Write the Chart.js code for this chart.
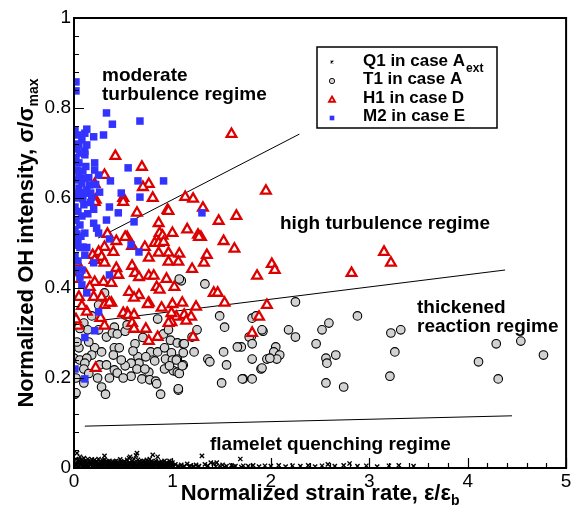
<!DOCTYPE html>
<html>
<head>
<meta charset="utf-8">
<script src="https://cdn.jsdelivr.net/npm/chart.js@4.4.1/dist/chart.umd.min.js"></script>
<style>
  html, body { margin: 0; padding: 0; background: #fff; }
  canvas { display: block; }
</style>
</head>
<body>
<canvas id="chart" width="574" height="513"></canvas>
<script>
// Axis ticks
const xTicks = [0, 1, 2, 3, 4, 5];
const yTicks = [0, 0.2, 0.4, 0.6, 0.8, 1];

// Q1 in case A_ext (x markers along the bottom)
const q1Points = [
  [0.0,0.003],[0.01,0.01],[0.02,0.02],[0.03,0.033],[0.04,0.005],[0.05,0.015],[0.05,0.002],[0.06,0.025],[0.07,0.008],
  [0.08,0.018],[0.09,0.012],[0.1,0.022],[0.1,0.003],[0.11,0.006],[0.12,0.016],[0.13,0.01],[0.14,0.02],[0.15,0.004],
  [0.16,0.014],[0.17,0.009],[0.18,0.019],[0.19,0.006],[0.2,0.012],[0.2,0.002],[0.21,0.018],[0.22,0.007],[0.23,0.015],
  [0.24,0.01],[0.25,0.02],[0.25,0.003],[0.26,0.005],[0.27,0.013],[0.28,0.009],[0.29,0.017],[0.3,0.006],[0.31,0.027],
  [0.31,0.018],[0.32,0.011],[0.33,0.005],[0.34,0.014],[0.35,0.008],[0.35,0.002],[0.36,0.016],[0.37,0.004],[0.38,0.011],
  [0.39,0.007],[0.4,0.013],[0.4,0.003],[0.41,0.005],[0.42,0.01],[0.43,0.016],[0.44,0.006],[0.45,0.012],[0.45,0.002],
  [0.46,0.008],[0.47,0.019],[0.48,0.005],[0.49,0.011],[0.5,0.009],[0.5,0.003],[0.51,0.015],[0.52,0.006],[0.53,0.012],
  [0.54,0.018],[0.55,0.007],[0.55,0.002],[0.56,0.022],[0.57,0.025],[0.58,0.01],[0.59,0.016],[0.6,0.006],[0.6,0.002],
  [0.61,0.02],[0.62,0.012],[0.63,0.028],[0.64,0.033],[0.65,0.018],[0.65,0.003],[0.66,0.008],[0.67,0.013],[0.68,0.005],
  [0.69,0.01],[0.7,0.006],[0.7,0.002],[0.71,0.016],[0.72,0.009],[0.73,0.012],[0.74,0.018],[0.75,0.007],[0.75,0.003],
  [0.76,0.014],[0.77,0.02],[0.78,0.01],[0.79,0.005],[0.8,0.029],[0.8,0.002],[0.81,0.012],[0.82,0.007],[0.83,0.016],
  [0.84,0.009],[0.85,0.025],[0.85,0.003],[0.86,0.005],[0.87,0.011],[0.88,0.006],[0.89,0.014],[0.9,0.008],[0.9,0.002],
  [0.92,0.016],[0.92,0.004],[0.93,0.005],[0.95,0.01],[0.95,0.003],[0.97,0.016],[0.98,0.006],[1.0,0.012],[1.0,0.003],
  [0.015,0.004],[0.035,0.012],[0.065,0.006],[0.085,0.003],[0.115,0.013],[0.135,0.004],[0.165,0.007],[0.185,0.011],
  [0.215,0.005],[0.235,0.009],[0.265,0.014],[0.285,0.004],[0.315,0.008],[0.345,0.006],[0.365,0.01],[0.395,0.004],
  [0.415,0.014],[0.435,0.007],[0.465,0.004],[0.485,0.013],[0.515,0.004],[0.535,0.008],[0.565,0.012],[0.585,0.005],
  [0.615,0.009],[0.635,0.004],[0.665,0.015],[0.685,0.009],[0.715,0.005],[0.735,0.007],[0.765,0.004],[0.785,0.015],
  [0.815,0.004],[0.835,0.01],[0.865,0.013],[0.885,0.003],[0.915,0.009],[0.94,0.012],[0.965,0.007],[0.99,0.009],
  [0.025,0.008],[0.045,0.018],[0.075,0.013],[0.095,0.007],[0.125,0.008],[0.145,0.012],[0.175,0.015],[0.195,0.013],
  [0.225,0.012],[0.245,0.006],[0.275,0.008],[0.295,0.011],[0.325,0.015],[0.355,0.012],[0.375,0.007],[0.405,0.009],
  [0.425,0.005],[0.455,0.008],[0.475,0.011],[0.505,0.012],[0.525,0.009],[0.545,0.004],[0.575,0.008],[0.595,0.011],
  [0.625,0.006],[0.655,0.011],[0.675,0.007],[0.695,0.014],[0.725,0.011],[0.755,0.01],[0.775,0.007],[0.795,0.01],
  [0.825,0.012],[0.855,0.008],[0.875,0.008],[0.895,0.011],[0.925,0.007],[0.955,0.006],[0.975,0.011],[0.995,0.004],
  [1.01,0.005],[1.03,0.008],[1.06,0.004],[1.09,0.007],[1.12,0.004],[1.15,0.009],[1.18,0.005],[1.21,0.003],[1.24,0.007],
  [1.27,0.004],[1.3,0.027],[1.33,0.008],[1.36,0.005],[1.39,0.012],[1.42,0.01],[1.45,0.012],[1.48,0.005],[1.51,0.007],
  [1.55,0.004],[1.6,0.006],[1.64,0.004],[1.69,0.02],[1.72,0.005],[1.77,0.004],[1.82,0.006],[1.88,0.003],[1.94,0.005],
  [1.05,0.003],[1.1,0.002],[1.17,0.003],[1.26,0.002],[1.35,0.003],[1.44,0.003],[1.53,0.002],[1.62,0.003],[1.7,0.002],
  [2.0,0.004],[2.08,0.006],[2.15,0.003],[2.22,0.005],[2.3,0.004],[2.38,0.006],[2.45,0.003],[2.52,0.005],[2.58,0.008],
  [2.65,0.004],[2.74,0.006],[2.8,0.01],[2.88,0.004],[2.97,0.005],[3.08,0.003],[3.2,0.005],[3.3,0.006],[3.45,0.004]
];

// T1 in case A (grey circles)
const t1Points = [
  [0.25,0.362],[0.1,0.322],[0.18,0.338],[0.14,0.307],[0.25,0.307],[0.33,0.291],[0.41,0.313],[0.39,0.3],[0.44,0.298],
  [0.52,0.304],[0.54,0.318],[0.85,0.331],[0.91,0.298],[0.96,0.307],[0.98,0.284],[1.05,0.278],[0.62,0.276],[0.05,0.267],
  [0.21,0.267],[0.28,0.258],[0.18,0.251],[0.41,0.267],[0.46,0.267],[0.4,0.251],[0.78,0.258],[0.85,0.258],[0.92,0.267],
  [0.99,0.256],[0.0,0.244],[0.06,0.24],[0.13,0.244],[0.11,0.233],[0.26,0.229],[0.33,0.229],[0.65,0.247],[0.66,0.233],
  [0.58,0.233],[0.73,0.247],[0.82,0.238],[0.93,0.242],[1.0,0.24],[1.05,0.242],[0.1,0.22],[0.41,0.218],[0.52,0.227],
  [0.64,0.22],[0.92,0.22],[1.01,0.216],[0.76,0.213],[0.44,0.211],[0.58,0.204],[0.69,0.198],[0.77,0.196],[0.83,0.193],
  [1.05,0.213],[0.28,0.18],[0.84,0.187],[0.1,0.189],[0.32,0.164],[0.01,0.164],[0.88,0.164],[1.06,0.173],
  [1.09,0.416],[1.33,0.409],[1.48,0.338],[1.53,0.313],[1.81,0.333],[1.8,0.291],[1.36,0.242],[1.38,0.236],[1.55,0.229],
  [1.5,0.189],[1.72,0.198],[1.81,0.198],[0.02,0.167],[1.25,0.307],[1.2,0.291],[1.11,0.276],[1.11,0.256],[1.11,0.229],
  [1.04,0.24],[1.7,0.269],[1.66,0.269],[1.52,0.258],[1.85,0.338],[1.92,0.304],[1.78,0.291],[1.81,0.276],[2.25,0.369],
  [2.18,0.307],[2.25,0.291],[2.05,0.269],[2.03,0.258],[2.09,0.251],[1.96,0.242],[2.06,0.242],[1.81,0.242],[1.9,0.22],
  [1.71,0.198],[1.06,0.176],[1.07,0.21],[0.97,0.227],[1.1,0.227],[1.12,0.276],[1.22,0.258],[2.88,0.338],[2.59,0.322],
  [2.52,0.307],[2.46,0.276],[2.66,0.251],[2.56,0.244],[2.57,0.233],[2.56,0.189],[2.74,0.18],[3.22,0.3],[3.32,0.307],
  [3.26,0.258],[3.21,0.204],[4.29,0.276],[4.54,0.282],[4.77,0.251],[4.11,0.236],[4.31,0.198],[1.91,0.307],[1.99,0.244],
  [1.91,0.222],[1.07,0.42],[0.31,0.389],[0.52,0.34],[0.02,0.2],[0.03,0.28],[0.06,0.31],[0.15,0.28],[0.24,0.2],
  [0.36,0.2],[0.48,0.24],[0.7,0.29],[0.15,0.21],[0.5,0.2],[0.6,0.26],[0.72,0.22]
];

// H1 in case D (red triangles)
const h1Points = [
  [0.42,0.693],[0.69,0.669],[0.31,0.651],[0.21,0.631],[0.76,0.631],[0.7,0.624],[0.5,0.6],[1.13,0.602],[1.21,0.598],
  [1.31,0.578],[0.95,0.573],[0.86,0.544],[0.87,0.522],[1.0,0.522],[0.9,0.516],[1.26,0.518],[1.29,0.513],[0.43,0.504],
  [0.54,0.513],[0.64,0.567],[0.22,0.596],[1.6,0.742],[1.95,0.616],[1.47,0.549],[1.65,0.56],[1.27,0.513],[1.52,0.504],
  [1.63,0.487],[1.35,0.473],[1.32,0.456],[1.07,0.476],[1.2,0.442],[2.01,0.453],[2.04,0.44],[1.86,0.427],[1.02,0.402],
  [1.42,0.389],[1.46,0.389],[1.53,0.367],[1.96,0.362],[1.24,0.358],[1.1,0.367],[1.0,0.364],[3.15,0.48],[3.22,0.456],
  [2.82,0.433],[1.88,0.336],[1.81,0.3],[1.04,0.336],[1.12,0.34],[1.19,0.336],[1.14,0.327],[0.99,0.324],[1.21,0.291],
  [0.21,0.591],[0.5,0.591],[0.96,0.571],[0.82,0.5],[0.86,0.5],[0.91,0.502],[0.52,0.513],[0.59,0.493],[0.31,0.491],
  [0.25,0.48],[0.19,0.473],[0.28,0.469],[0.72,0.491],[0.76,0.467],[0.86,0.478],[0.96,0.478],[0.96,0.458],[1.06,0.458],
  [0.31,0.456],[0.21,0.462],[0.03,0.456],[0.59,0.449],[0.43,0.444],[0.62,0.433],[0.45,0.429],[0.76,0.427],[0.81,0.427],
  [0.94,0.42],[0.66,0.424],[0.3,0.413],[0.38,0.411],[0.21,0.413],[0.16,0.402],[0.84,0.402],[0.87,0.396],[0.56,0.391],
  [0.66,0.384],[0.2,0.38],[0.28,0.38],[0.61,0.378],[0.38,0.367],[0.76,0.367],[0.89,0.356],[0.13,0.347],[0.54,0.344],
  [0.31,0.362],[0.99,0.344],[0.04,0.316],[0.31,0.316],[0.27,0.333],[0.75,0.364],[0.5,0.344],[0.55,0.34],[0.61,0.34],
  [0.59,0.322],[0.61,0.309],[0.73,0.309],[0.76,0.282],[0.85,0.291],[0.96,0.322],[0.22,0.222],[0.36,0.367],[0.34,0.52],
  [0.4,0.48],[0.05,0.38],[0.02,0.33],[0.08,0.36],[0.12,0.43],[0.02,0.42],[1.15,0.53],[0.8,0.6]
];

// M2 in case E (blue squares)
const m2Points = [
  [0.02,0.858],[0.02,0.838],[0.33,0.789],[0.39,0.764],[0.67,0.771],[0.13,0.753],[0.11,0.744],[0.2,0.736],[0.3,0.74],
  [0.08,0.729],[0.05,0.718],[0.13,0.718],[0.03,0.709],[0.11,0.704],[0.11,0.696],[0.05,0.678],[0.21,0.678],[0.55,0.667],
  [0.21,0.662],[0.03,0.662],[0.25,0.651],[0.05,0.647],[0.11,0.644],[0.37,0.638],[0.65,0.638],[0.91,0.638],[0.08,0.633],
  [0.16,0.629],[0.05,0.622],[0.13,0.618],[0.26,0.613],[0.48,0.611],[0.67,0.602],[0.03,0.607],[0.18,0.602],[0.36,0.58],
  [0.45,0.567],[0.33,0.551],[0.61,0.547],[0.2,0.544],[0.23,0.533],[0.11,0.522],[0.25,0.522],[0.36,0.509],[0.58,0.496],
  [0.66,0.48],[1.3,0.567],[0.11,0.473],[0.09,0.491],[0.04,0.507],[0.06,0.49],[0.13,0.49],[0.03,0.495],[0.2,0.456],
  [0.08,0.44],[0.36,0.429],[0.06,0.424],[0.08,0.407],[0.13,0.389],[0.25,0.347],[0.21,0.305],[0.11,0.29],[0.01,0.22],
  [0.11,0.198],[0.02,0.611],[0.07,0.611],[0.12,0.611],[0.17,0.611],[0.01,0.58],[0.04,0.57],[0.08,0.56],[0.02,0.55],
  [0.06,0.54],[0.1,0.585],[0.14,0.565],[0.01,0.53],[0.03,0.52],[0.07,0.515],[0.01,0.47],[0.04,0.46],[0.02,0.44],
  [0.01,0.68],[0.02,0.69],[0.01,0.75],[0.04,0.74],[0.02,0.72],[0.06,0.7],[0.09,0.66],[0.03,0.64],[0.12,0.67],
  [0.15,0.645],[0.17,0.59],[0.2,0.575],[0.22,0.63],[0.04,0.6],[0.09,0.598]
];

// regime boundary lines
const moderateLine = [[0.245, 0.511], [2.29, 0.742]];
const thickenedLine = [[0.2, 0.326], [4.38, 0.44]];
const quenchLine = [[0.11, 0.093], [4.45, 0.116]];

const FONT = "'Liberation Sans', Arial, Helvetica, sans-serif";

const toXY = arr => arr.map(p => ({ x: p[0], y: p[1] }));

const seriesStyles = [
  { label: 'Q1', pointStyle: 'crossRot', radius: 3, borderWidth: 1.4, borderColor: '#000', backgroundColor: '#000' },
  { label: 'T1', pointStyle: 'circle', radius: 4.3, borderWidth: 1.1, borderColor: '#000', backgroundColor: '#d2d2d2' },
  { label: 'H1', pointStyle: 'triangle', radius: 5.6, borderWidth: 2.3, borderColor: '#dd0000', backgroundColor: '#ffffff' },
  { label: 'M2', pointStyle: 'rect', radius: 5.3, borderWidth: 0, borderColor: '#3333ff', backgroundColor: '#3333ff' }
];

function pointSet(data, st, order) {
  return {
    label: st.label,
    data: toXY(data),
    pointStyle: st.pointStyle,
    pointRadius: st.radius,
    pointBorderWidth: st.borderWidth,
    pointBorderColor: st.borderColor,
    pointBackgroundColor: st.backgroundColor,
    showLine: false,
    order: order
  };
}

function lineSet(data) {
  return {
    data: toXY(data),
    showLine: true,
    borderColor: '#000',
    borderWidth: 1,
    pointRadius: 0,
    order: 5
  };
}

// text with a subscript, centred on cx
function subText(ctx, main, sub, cx, y, font, subFont, drop) {
  ctx.font = font;
  const w1 = ctx.measureText(main).width;
  ctx.font = subFont;
  const w2 = ctx.measureText(sub).width;
  const x0 = cx - (w1 + w2) / 2;
  ctx.textAlign = 'left';
  ctx.font = font;
  ctx.fillText(main, x0, y);
  ctx.font = subFont;
  ctx.fillText(sub, x0 + w1, y + drop);
}

const decorations = {
  id: 'decorations',
  afterDatasetsDraw(chart) {
    const ctx = chart.ctx;
    const area = chart.chartArea;
    const xs = chart.scales.x;
    const ys = chart.scales.y;
    ctx.save();
    ctx.strokeStyle = '#000';
    ctx.fillStyle = '#000';

    // inward ticks
    ctx.lineWidth = 1.2;
    ctx.beginPath();
    for (let i = 0; i <= 25; i++) {
      const py = Math.round(ys.getPixelForValue(i * 0.04)) + 0.5;
      const len = i % 5 === 0 ? 10 : 5;
      ctx.moveTo(area.left, py);
      ctx.lineTo(area.left + len, py);
    }
    for (let i = 0; i <= 25; i++) {
      const px = Math.round(xs.getPixelForValue(i * 0.2)) + 0.5;
      const len = i % 5 === 0 ? 10 : 5;
      ctx.moveTo(px, area.bottom);
      ctx.lineTo(px, area.bottom - len);
    }
    ctx.stroke();

    // frame
    ctx.lineWidth = 2;
    ctx.strokeRect(area.left, area.top, area.right - area.left, area.bottom - area.top);

    // regime labels
    ctx.font = 'bold 19px ' + FONT;
    ctx.textAlign = 'left';
    ctx.textBaseline = 'alphabetic';
    ctx.fillText('moderate', 102, 81);
    ctx.fillText('turbulence regime', 102, 100);
    ctx.fillText('high turbulence regime', 280, 229);
    ctx.fillText('thickened', 417, 313);
    ctx.fillText('reaction regime', 417, 332);
    ctx.fillText('flamelet quenching regime', 210, 450);

    // legend
    const lx = 317, ly = 47, lw = 180, lh = 81;
    ctx.fillStyle = '#fff';
    ctx.fillRect(lx, ly, lw, lh);
    ctx.lineWidth = 1.5;
    ctx.strokeStyle = '#000';
    ctx.strokeRect(lx, ly, lw, lh);
    const names = ['Q1 in case A', 'T1 in case A', 'H1 in case D', 'M2 in case E'];
    const symY = [62, 81, 100, 118];
    const textY = [66, 84, 103, 121];
    seriesStyles.forEach((st, i) => {
      ctx.fillStyle = st.backgroundColor;
      ctx.strokeStyle = st.borderColor;
      ctx.lineWidth = st.borderWidth * 0.8;
      Chart.helpers.drawPoint(ctx, {
        pointStyle: st.pointStyle,
        radius: st.radius * 0.62,
        rotation: 0,
        borderWidth: st.borderWidth
      }, 332, symY[i]);
      ctx.fillStyle = '#000';
      ctx.font = 'bold 17px ' + FONT;
      ctx.textAlign = 'left';
      ctx.fillText(names[i], 363, textY[i]);
    });
    ctx.font = 'bold 17px ' + FONT;
    const aw = ctx.measureText(names[0]).width;
    ctx.font = 'bold 12px ' + FONT;
    ctx.fillText('ext', 363 + aw + 1, 72);

    // axis titles
    ctx.fillStyle = '#000';
    const cx = (area.left + area.right) / 2;
    subText(ctx, 'Normalized strain rate, \u03b5/\u03b5', 'b', cx, 500,
      'bold 22px ' + FONT, 'bold 14px ' + FONT, 5);
    ctx.save();
    ctx.translate(33, (area.top + area.bottom) / 2);
    ctx.rotate(-Math.PI / 2);
    subText(ctx, 'Normalized OH intensity, \u03c3/\u03c3', 'max', 0, 0,
      'bold 22px ' + FONT, 'bold 14px ' + FONT, 5);
    ctx.restore();

    ctx.restore();
  }
};

const tickLabel = v => String(Math.round(v * 10) / 10);

const ctx = document.getElementById('chart').getContext('2d');
const chart = new Chart(ctx, {
  type: 'scatter',
  data: {
    datasets: [
      pointSet(q1Points, seriesStyles[0], 4),
      pointSet(t1Points, seriesStyles[1], 3),
      pointSet(h1Points, seriesStyles[2], 2),
      pointSet(m2Points, seriesStyles[3], 1),
      lineSet(moderateLine),
      lineSet(thickenedLine),
      lineSet(quenchLine)
    ]
  },
  options: {
    responsive: false,
    animation: false,
    layout: { padding: { top: 18, right: 4, left: 0, bottom: 0 } },
    plugins: {
      legend: { display: false },
      tooltip: { enabled: false }
    },
    scales: {
      x: {
        type: 'linear',
        min: xTicks[0],
        max: xTicks[xTicks.length - 1],
        afterBuildTicks: s => { s.ticks = xTicks.map(v => ({ value: v })); },
        ticks: { color: '#000', font: { family: FONT, size: 19 }, padding: 2, maxRotation: 0, callback: tickLabel },
        grid: { display: false, drawTicks: false },
        border: { display: false },
        afterFit: s => { s.height = 45; }
      },
      y: {
        type: 'linear',
        min: yTicks[0],
        max: yTicks[yTicks.length - 1],
        afterBuildTicks: s => { s.ticks = yTicks.map(v => ({ value: v })); },
        ticks: { color: '#000', font: { family: FONT, size: 19 }, padding: 3, callback: tickLabel },
        grid: { display: false, drawTicks: false },
        border: { display: false },
        afterFit: s => { s.width = 74; }
      }
    }
  },
  plugins: [decorations]
});
</script>
</body>
</html>
